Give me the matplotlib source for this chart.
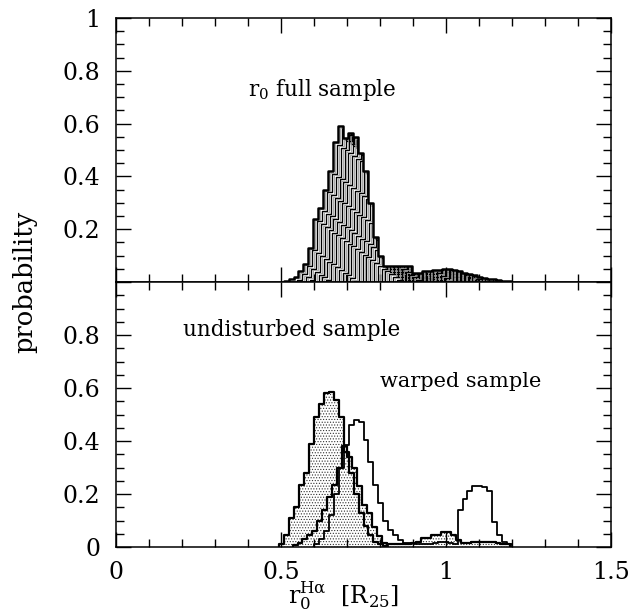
import numpy as np
import matplotlib.pyplot as plt
from matplotlib.patches import Polygon
from matplotlib.ticker import MultipleLocator

plt.rcParams['font.family'] = ['DejaVu Serif']
plt.rcParams['mathtext.fontset'] = 'dejavuserif'
plt.rcParams['hatch.linewidth'] = 0.5

# histogram data (bin width 0.015 in R25, probability per bin)
BIN = 0.015

full_start = 0.508
full_prob = [0.005, 0.01, 0.02, 0.04, 0.07, 0.13, 0.24, 0.28, 0.35, 0.42, 0.53,
             0.59, 0.545, 0.565, 0.55, 0.49, 0.42, 0.30, 0.17, 0.10, 0.06, 0.06,
             0.06, 0.06, 0.06, 0.06, 0.035, 0.035, 0.04, 0.04, 0.045, 0.045, 0.05,
             0.05, 0.045, 0.04, 0.035, 0.03, 0.025, 0.02, 0.015, 0.01, 0.01,
             0.008, 0.005, 0.005]

undist_start = 0.495
undist_prob = [0.01, 0.045, 0.11, 0.15, 0.235, 0.28, 0.39, 0.49, 0.54, 0.58,
               0.585, 0.555, 0.49, 0.36, 0.28, 0.20, 0.13, 0.08, 0.045, 0.02,
               0.01, 0.005]

second_start = 0.535
second_prob = [0.008, 0.015, 0.03, 0.045, 0.06, 0.10, 0.14, 0.19, 0.235, 0.30,
               0.38, 0.34, 0.30, 0.23, 0.16, 0.13, 0.075, 0.04, 0.015, 0.01,
               0.01, 0.01, 0.01, 0.01, 0.015, 0.02, 0.034, 0.034, 0.045, 0.045,
               0.057, 0.057, 0.045, 0.025, 0.015, 0.015, 0.02, 0.02, 0.02, 0.02,
               0.02, 0.015, 0.01, 0.01]

warped_start = 0.60
warped_prob = [0.01, 0.03, 0.06, 0.12, 0.20, 0.30, 0.385, 0.46, 0.48, 0.47,
               0.405, 0.32, 0.235, 0.165, 0.10, 0.065, 0.045, 0.027, 0.015,
               0.015, 0.01, 0.01, 0.01, 0.01, 0.015, 0.02, 0.02, 0.015, 0.01,
               0.14, 0.18, 0.21, 0.23, 0.23, 0.225, 0.21, 0.095, 0.045, 0.02,
               0.01]


def step_outline(start, probs):
    edges = start + BIN * np.arange(len(probs) + 1)
    xs = np.repeat(edges, 2)
    ys = np.concatenate([[0], np.repeat(probs, 2), [0]])
    return xs, ys


def style_axes(ax):
    ax.set_xlim(0, 1.5)
    ax.set_ylim(0, 1)
    ax.xaxis.set_major_locator(MultipleLocator(0.5))
    ax.xaxis.set_minor_locator(MultipleLocator(0.1))
    ax.yaxis.set_major_locator(MultipleLocator(0.2))
    ax.yaxis.set_minor_locator(MultipleLocator(0.05))
    ax.tick_params(which='both', direction='in', top=True, right=True,
                   width=1.0, labelsize=17)
    ax.tick_params(which='major', length=11)
    ax.tick_params(which='minor', length=5.5)
    ax.tick_params(axis='x', pad=10)
    ax.tick_params(axis='y', pad=11)
    for sp in ax.spines.values():
        sp.set_linewidth(1.1)


fig = plt.figure(figsize=(6.36, 6.14), dpi=100)
ax1 = fig.add_axes([0.1824, 0.5407, 0.7783, 0.4300])
ax2 = fig.add_axes([0.1824, 0.1091, 0.7783, 0.4316])
style_axes(ax1)
style_axes(ax2)

# top panel: full sample, stepped shading (shifted copies of the outline)
xs, ys = step_outline(full_start, full_prob)
clip = Polygon(np.column_stack([xs, ys]), closed=True, facecolor='white',
               edgecolor='none')
ax1.add_patch(clip)
dx, dy = 0.0115, 0.0105
for k in range(1, 80):
    ln, = ax1.plot(xs + k * dx, ys - k * dy, color='k', lw=1.0)
    ln.set_clip_path(clip)
    ln, = ax1.plot(xs + (k - 0.5) * dx, ys - (k - 0.5) * dy, color='0.6', lw=0.6)
    ln.set_clip_path(clip)
ax1.plot(xs, ys, color='k', lw=1.8)
ax1.text(0.40, 0.727, r'r$_0$ full sample', fontsize=15.5, va='center')
ax1.set_xticklabels([])
ax1.set_yticks([0, 0.2, 0.4, 0.6, 0.8, 1.0])
ax1.set_yticklabels(['', '0.2', '0.4', '0.6', '0.8', '1'])

# bottom panel: warped (open), undisturbed (dotted)
wx, wy = step_outline(warped_start, warped_prob)
ax2.plot(wx, wy, color='k', lw=1.3)
for start, probs in [(undist_start, undist_prob), (second_start, second_prob)]:
    hx, hy = step_outline(start, probs)
    ax2.fill(hx, hy, facecolor='white', edgecolor='0.2', hatch='......', lw=0)
    ax2.plot(hx, hy, color='k', lw=1.6)
ax2.text(0.203, 0.82, 'undisturbed sample', fontsize=15.5, va='center')
ax2.text(0.80, 0.625, 'warped sample', fontsize=15, va='center')
ax2.set_xticks([0, 0.5, 1.0, 1.5])
ax2.set_xticklabels(['0', '0.5', '1', '1.5'])
ax2.set_yticks([0, 0.2, 0.4, 0.6, 0.8, 1.0])
ax2.set_yticklabels(['0', '0.2', '0.4', '0.6', '0.8', ''])

fig.text(25 / 636, 1 - 282 / 614, 'probability', rotation=90, fontsize=18.5,
         ha='center', va='center')
fig.text(343 / 636, 1 - 596 / 614, r'r$_0^{\rm H\alpha}$  [R$_{25}$]',
         fontsize=17, ha='center', va='center')

fig.savefig('out.png', dpi=100)
